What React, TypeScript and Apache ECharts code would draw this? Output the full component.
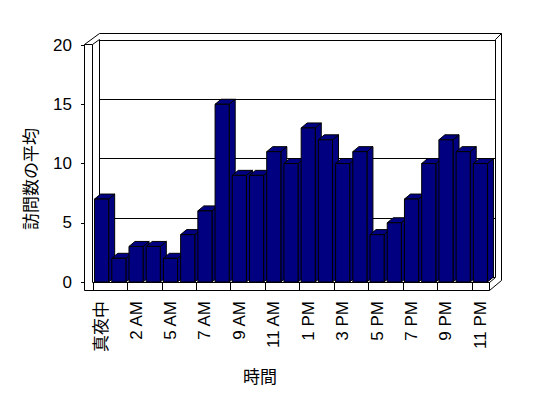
import React, { useEffect, useRef } from "react";
import * as echarts from "echarts";

const hours = ["真夜中", "1 AM", "2 AM", "3 AM", "5 AM", "6 AM", "7 AM", "8 AM", "9 AM", "10 AM", "11 AM", "正午", "1 PM", "2 PM", "3 PM", "4 PM", "5 PM", "6 PM", "7 PM", "8 PM", "9 PM", "10 PM", "11 PM"];
const visits = [7, 2, 3, 3, 2, 4, 6, 15, 9, 9, 11, 10, 13, 12, 10, 11, 4, 5, 7, 10, 12, 11, 10];
const yMin = 0;
const yMax = 20;
const yStep = 5;
const yTitle = "訪問数の平均";
const xTitle = "時間";

const LAT = "'Liberation Sans', 'Noto Sans CJK JP', sans-serif";
const CJK = "'Noto Sans CJK JP', sans-serif";

export default function App() {
  const ref = useRef<HTMLDivElement>(null);
  useEffect(() => {
    if (!ref.current) return;
    const chart = echarts.init(ref.current, null, { renderer: "svg" });
    const dx = 6;
    const dy = -5;
    const barStyle = { fill: "#000080", stroke: "#000", lineWidth: 1 };
    const line = (x1: number, y1: number, x2: number, y2: number) => ({
      type: "line",
      z: 0,
      shape: { x1, y1, x2, y2 },
      style: { stroke: "#000", lineWidth: 1 },
    });
    chart.setOption({
      animation: false,
      backgroundColor: "#fff",
      grid: [
        { left: 93, right: 59, top: 45, bottom: 116 },
        { left: 100, right: 53, top: 40, bottom: 121 },
      ],
      xAxis: [
        {
          type: "category",
          gridIndex: 0,
          data: hours,
          boundaryGap: true,
          axisLine: { show: true, lineStyle: { color: "#000", width: 1 } },
          axisTick: { show: true, length: 8, inside: false, lineStyle: { color: "#000" } },
          axisLabel: {
            interval: 1,
            rotate: 90,
            margin: 19,
            color: "#000",
            fontSize: 17,
            fontFamily: LAT,
          },
          splitLine: { show: false },
        },
        { type: "category", gridIndex: 1, data: hours, show: false },
      ],
      yAxis: [
        {
          type: "value",
          gridIndex: 0,
          min: yMin,
          max: yMax,
          interval: yStep,
          offset: 9,
          axisLine: { show: false },
          axisTick: { show: true, length: 3, lineStyle: { color: "#000" } },
          axisLabel: { color: "#000", fontSize: 17, fontFamily: LAT, margin: 12 },
          splitLine: { show: false },
        },
        {
          type: "value",
          gridIndex: 1,
          min: yMin,
          max: yMax,
          interval: yStep,
          axisLine: { show: false },
          axisTick: { show: false },
          axisLabel: { show: false },
          splitLine: { show: true, lineStyle: { color: "#000", width: 1 } },
        },
      ],
      graphic: [
        {
          type: "polygon",
          z: 0,
          shape: {
            points: [
              [84.5, 290.5],
              [84.5, 44.5],
              [99.5, 33.5],
              [501.5, 33.5],
              [501.5, 280.5],
              [489.5, 290.5],
            ],
          },
          style: { fill: "none", stroke: "#000", lineWidth: 1 },
        },
        line(84.5, 44.5, 92.5, 44.5),
        line(92.5, 44.5, 92.5, 282.5),
        line(92.5, 44.5, 99.5, 39.5),
        line(99.5, 39.5, 99.5, 277.5),
        line(495.5, 39.5, 495.5, 277.5),
        line(495.5, 277.5, 489.5, 282.5),
        line(495.5, 39.5, 501.5, 33.5),
        line(489.5, 282.5, 489.5, 290.5),
        {
          type: "text",
          z: 5,
          x: 29,
          y: 179,
          rotation: Math.PI / 2,
          style: {
            text: yTitle,
            fontSize: 17,
            fontFamily: CJK,
            fill: "#000",
            align: "center",
            verticalAlign: "middle",
          },
        },
        {
          type: "text",
          z: 5,
          x: 260,
          y: 375,
          style: {
            text: xTitle,
            fontSize: 17,
            fontFamily: CJK,
            fill: "#000",
            align: "center",
            verticalAlign: "middle",
          },
        },
      ],
      series: [
        {
          type: "custom",
          xAxisIndex: 0,
          yAxisIndex: 0,
          z: 2,
          data: visits.map((v, i) => [i, v]),
          encode: { x: 0, y: 1 },
          renderItem: (params: any, api: any) => {
            const i = api.value(0);
            const v = api.value(1);
            const top = api.coord([i, v]);
            const base = api.coord([i, 0]);
            const band = api.size([1, 0])[0];
            const w = band * 0.82;
            const l = top[0] - w / 2;
            const r = l + w;
            const t = top[1];
            const b = base[1];
            return {
              type: "group",
              children: [
                {
                  type: "polygon",
                  shape: { points: [[r, b], [r, t], [r + dx, t + dy], [r + dx, b + dy]] },
                  style: barStyle,
                },
                {
                  type: "polygon",
                  shape: { points: [[l, t], [l + dx, t + dy], [r + dx, t + dy], [r, t]] },
                  style: barStyle,
                },
                {
                  type: "rect",
                  shape: { x: l, y: t, width: w, height: b - t },
                  style: barStyle,
                },
              ],
            };
          },
        },
      ],
    });
    return () => chart.dispose();
  }, []);
  return (
    <div
      ref={ref}
      style={{ position: "fixed", left: 0, top: 0, width: 548, height: 398, background: "#fff" }}
    />
  );
}
